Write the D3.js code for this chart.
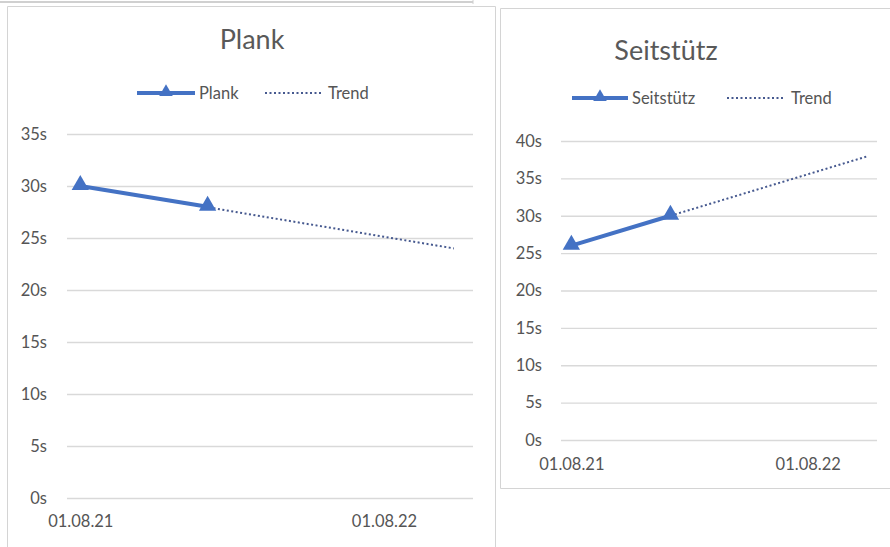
<!DOCTYPE html>
<html>
<head>
<meta charset="utf-8">
<script src="https://cdn.jsdelivr.net/npm/d3@7"></script>
<style>
  body { margin: 0; background: #fff; }
  text { font-family: Lato, "Open Sans", sans-serif; fill: #555; }
</style>
</head>
<body>
<script>
// Measurement dates (both exercises)
const dates = ["2021-08-01", "2022-01-01"];
// Seconds held
const plankValues = [30, 28];
const seitValues = [26, 30];
// Linear trend lines, start and forecast end
const plankTrendDates = ["2021-08-01", "2022-10-24"];
const plankTrendValues = [30, 24];
const seitTrendDates = ["2021-08-01", "2022-11-03"];
const seitTrendValues = [26, 38];
// Axis ticks
const xTickDates = ["2021-08-01", "2022-08-01"];
const xTickLabels = ["01.08.21", "01.08.22"];
const plankYTicks = [0, 5, 10, 15, 20, 25, 30, 35];
const seitYTicks = [0, 5, 10, 15, 20, 25, 30, 35, 40];

const BLUE = "#4472c4";
const TREND = "#46598f";
const GRID = "#d9d9d9";
const TICK_FONT = 16.5;
const parse = d3.timeParse("%Y-%m-%d");
// Excel month-based date axis: half a month padding each side
const xDomain = [parse("2021-07-16"), parse("2022-11-16")];

const svg = d3.select("body").append("svg")
    .attr("width", 890)
    .attr("height", 547);

// Frames of the two chart objects and the sheet edge on top
svg.append("line").attr("x1", 0).attr("x2", 473).attr("y1", 2).attr("y2", 2)
    .attr("stroke", "#d0d0d0").attr("stroke-width", 2);
svg.append("line").attr("x1", 473).attr("x2", 473).attr("y1", 0).attr("y2", 4)
    .attr("stroke", "#d0d0d0");
svg.append("path").attr("d", "M7.5,560V6.5H495.5V560")
    .attr("fill", "none").attr("stroke", "#d4d4d4");
svg.append("path").attr("d", "M900,8.5H500.5V488.5H900")
    .attr("fill", "none").attr("stroke", "#d4d4d4");

function drawChart(cfg) {
    const g = svg.append("g");
    const x = d3.scaleTime().domain(xDomain).range([cfg.left, cfg.right]);
    const y = d3.scaleLinear().domain([0, d3.max(cfg.yTicks)])
        .range([cfg.bottom, cfg.top]);

    // Title
    g.append("text").attr("x", cfg.titleX).attr("y", cfg.titleY)
        .attr("text-anchor", "middle").attr("font-size", 27)
        .style("fill", "#595959")
        .text(cfg.name);

    // Horizontal gridlines + y labels
    const yAxis = g.append("g")
        .attr("transform", `translate(${cfg.left},0)`)
        .call(d3.axisLeft(y).tickValues(cfg.yTicks)
            .tickSize(-(cfg.right - cfg.left))
            .tickPadding(cfg.left - cfg.labelX)
            .tickFormat(d => d + "s"));
    yAxis.select(".domain").remove();
    yAxis.selectAll(".tick line").attr("stroke", GRID).attr("stroke-width", 1.3);
    yAxis.selectAll(".tick text").attr("font-size", TICK_FONT)
        .attr("font-family", "Lato, sans-serif");

    // Date labels
    const xAxis = g.append("g")
        .attr("transform", `translate(0,${cfg.bottom})`)
        .call(d3.axisBottom(x).tickValues(xTickDates.map(parse))
            .tickSize(0).tickPadding(cfg.xLabelPad)
            .tickFormat((d, i) => xTickLabels[i]));
    xAxis.select(".domain").remove();
    xAxis.selectAll(".tick text").attr("font-size", TICK_FONT)
        .attr("font-family", "Lato, sans-serif");

    // Trend (dotted)
    const trend = cfg.trendDates.map((d, i) => [parse(d), cfg.trendValues[i]]);
    g.append("path").datum(trend)
        .attr("d", d3.line().x(d => x(d[0])).y(d => y(d[1])))
        .attr("fill", "none").attr("stroke", TREND)
        .attr("stroke-width", 2).attr("stroke-dasharray", "2,2.5");

    // Series line with triangle markers
    const pts = dates.map((d, i) => [parse(d), cfg.values[i]]);
    g.append("path").datum(pts)
        .attr("d", d3.line().x(d => x(d[0])).y(d => y(d[1])))
        .attr("fill", "none").attr("stroke", BLUE).attr("stroke-width", 4);
    g.selectAll(".marker").data(pts).join("path")
        .attr("class", "marker")
        .attr("transform", d => `translate(${x(d[0])},${y(d[1]) - 1})`)
        .attr("d", d3.symbol(d3.symbolTriangle, 130))
        .attr("fill", BLUE);

    // Legend
    const lg = cfg.legend;
    g.append("line").attr("x1", lg.lineX0).attr("x2", lg.lineX1)
        .attr("y1", lg.y).attr("y2", lg.y)
        .attr("stroke", BLUE).attr("stroke-width", 4);
    g.append("path")
        .attr("transform", `translate(${(lg.lineX0 + lg.lineX1) / 2},${lg.y - 1})`)
        .attr("d", d3.symbol(d3.symbolTriangle, 80)).attr("fill", BLUE);
    g.append("text").attr("x", lg.lineX1 + 4).attr("y", lg.y + 5.5)
        .attr("font-size", TICK_FONT).text(cfg.name);
    g.append("line").attr("x1", lg.dotX0).attr("x2", lg.dotX1)
        .attr("y1", lg.y).attr("y2", lg.y)
        .attr("stroke", TREND).attr("stroke-width", 2)
        .attr("stroke-dasharray", "2,2.5");
    g.append("text").attr("x", lg.dotX1 + 7).attr("y", lg.y + 5.5)
        .attr("font-size", TICK_FONT).text("Trend");
}

drawChart({
    name: "Plank", values: plankValues,
    trendDates: plankTrendDates, trendValues: plankTrendValues,
    yTicks: plankYTicks,
    left: 67, right: 473, top: 134, bottom: 498,
    labelX: 47, xLabelPad: 17,
    titleX: 252, titleY: 49,
    legend: { y: 93, lineX0: 137, lineX1: 195, dotX0: 265, dotX1: 321 }
});

drawChart({
    name: "Seitstütz", values: seitValues,
    trendDates: seitTrendDates, trendValues: seitTrendValues,
    yTicks: seitYTicks,
    left: 561, right: 877, top: 141, bottom: 440,
    labelX: 542, xLabelPad: 18,
    titleX: 666, titleY: 60,
    legend: { y: 98, lineX0: 572, lineX1: 628, dotX0: 727, dotX1: 784 }
});
</script>
</body>
</html>
